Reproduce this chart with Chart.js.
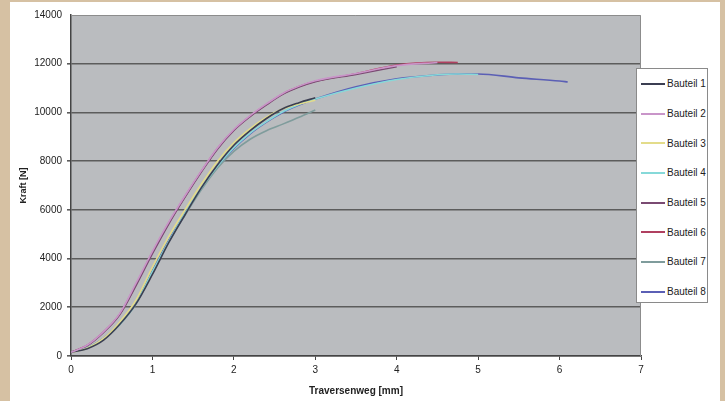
<!DOCTYPE html>
<html>
<head>
<meta charset="utf-8">
<script src="https://cdn.jsdelivr.net/npm/chart.js@4/dist/chart.umd.min.js"></script>
<style>
  html, body { margin: 0; padding: 0; }
  body { width: 725px; height: 401px; background: #d6c1a3; position: relative; overflow: hidden; }
  #card { position: absolute; left: 10px; top: 2px; width: 710px; height: 399px; background: #fff; }
  #card canvas { position: absolute; left: 0; top: 0; }
  #legend { position: absolute; left: 626px; top: 66px; width: 72px; height: 235px;
    background: #fff; border: 1px solid #8a8a8a; box-sizing: border-box;
    font: 10px "Liberation Sans", Arial, sans-serif; color: #222; }
  #legend .item { height: 29.7px; display: flex; align-items: center; }
  #legend .swatch { width: 24px; height: 2px; margin-left: 4px; margin-right: 2px; }
</style>
</head>
<body>
<div id="card">
  <canvas id="kraftChart" width="710" height="399"></canvas>
  <div id="legend"></div>
</div>
<script>
// Traversenweg [mm] – gemeinsame Stützstellen
const weg = [0, 0.2, 0.4, 0.6, 0.8, 1.0, 1.2, 1.4, 1.6, 1.8, 2.0, 2.2, 2.4, 2.6, 2.8, 3.0, 3.5, 4.0, 4.5, 4.75, 5.0, 5.5, 6.0, 6.1];

// Kraft [N] je Bauteil (Reihen enden unterschiedlich früh)
const bauteil1 = [150, 300, 650, 1300, 2150, 3350, 4650, 5800, 6900, 7850, 8650, 9250, 9750, 10150, 10400, 10600];
const bauteil2 = [150, 450, 1000, 1750, 3000, 4300, 5500, 6580, 7600, 8550, 9300, 9870, 10350, 10780, 11080, 11300, 11600, 11920, 12050];
const bauteil3 = [150, 320, 720, 1400, 2300, 3650, 4900, 6000, 7050, 8000, 8750, 9330, 9800, 10150, 10350, 10500];
const bauteil4 = [150, 330, 700, 1300, 2150, 3450, 4700, 5850, 6900, 7800, 8550, 9150, 9620, 10030, 10330, 10550, 11000, 11350, 11550, 11580, 11560];
const bauteil5 = [150, 430, 970, 1700, 2900, 4200, 5420, 6520, 7550, 8500, 9260, 9830, 10310, 10740, 11040, 11260, 11560, 11880];
const bauteil6 = [150, 440, 990, 1730, 2950, 4250, 5460, 6550, 7580, 8530, 9280, 9850, 10330, 10760, 11060, 11280, 11590, 11950, 12060, 12050];
const bauteil7 = [150, 330, 700, 1300, 2150, 3450, 4700, 5780, 6820, 7720, 8400, 8900, 9250, 9520, 9800, 10100];
const bauteil8 = [150, 340, 720, 1350, 2200, 3500, 4750, 5850, 6880, 7780, 8520, 9120, 9600, 10000, 10300, 10550, 11050, 11380, 11540, 11580, 11580, 11420, 11290, 11250];

const namen = ['Bauteil 1', 'Bauteil 2', 'Bauteil 3', 'Bauteil 4', 'Bauteil 5', 'Bauteil 6', 'Bauteil 7', 'Bauteil 8'];
const reihen = [bauteil1, bauteil2, bauteil3, bauteil4, bauteil5, bauteil6, bauteil7, bauteil8];
const farben = ['#3b3e52', '#c995c9', '#e3dc8a', '#86d9d9', '#7a4a72', '#b04060', '#7f9c9c', '#5b5fb5'];
// Bauteil 2 liegt im Original obenauf
const ebenen = [0, -1, 0, 0, 0, 0, 0, 0];

const xTicks = [0, 1, 2, 3, 4, 5, 6, 7];
const yTicks = [0, 2000, 4000, 6000, 8000, 10000, 12000, 14000];

const FONT = '"Liberation Sans", Arial, sans-serif';

// Plotfläche grau hinterlegen + Rahmen
const plotBg = {
  id: 'plotBg',
  beforeDraw(chart) {
    const { ctx, chartArea: a } = chart;
    ctx.save();
    ctx.fillStyle = '#babcbf';
    ctx.fillRect(a.left, a.top, a.right - a.left, a.bottom - a.top);
    ctx.restore();
  },
  afterDraw(chart) {
    const { ctx, chartArea: a } = chart;
    ctx.save();
    ctx.strokeStyle = '#8c8c8c';
    ctx.lineWidth = 1;
    ctx.beginPath();
    ctx.moveTo(a.left, a.top + 0.5);
    ctx.lineTo(a.right - 0.5, a.top + 0.5);
    ctx.lineTo(a.right - 0.5, a.bottom);
    ctx.stroke();
    ctx.restore();
  }
};

const datasets = reihen.map((werte, i) => ({
  label: namen[i],
  data: werte.map((k, j) => ({ x: weg[j], y: k })),
  borderColor: farben[i],
  backgroundColor: farben[i],
  borderWidth: 1.6,
  pointRadius: 0,
  showLine: true,
  order: ebenen[i],
  cubicInterpolationMode: 'monotone'
}));

new Chart(document.getElementById('kraftChart'), {
  type: 'scatter',
  data: { datasets },
  options: {
    responsive: false,
    animation: false,
    layout: { padding: { left: 0, right: 79, top: 13, bottom: 0 } },
    plugins: {
      legend: { display: false },
      tooltip: { enabled: false }
    },
    scales: {
      x: {
        type: 'linear',
        min: 0, max: 7,
        afterBuildTicks: (s) => { s.ticks = xTicks.map(v => ({ value: v })); },
        afterFit: (s) => { s.height = 45; },
        grid: { drawOnChartArea: false, drawTicks: true, tickLength: 4, color: '#444' },
        border: { color: '#444', width: 1.5 },
        ticks: { font: { family: FONT, size: 10 }, color: '#222', padding: 4, callback: (v) => String(v) },
        title: { display: true, text: 'Traversenweg [mm]', font: { family: FONT, size: 10, weight: 'bold' }, color: '#222', padding: { top: 3 } }
      },
      y: {
        type: 'linear',
        min: 0, max: 14000,
        afterBuildTicks: (s) => { s.ticks = yTicks.map(v => ({ value: v })); },
        afterFit: (s) => { s.width = 61; },
        grid: {
          drawTicks: true, tickLength: 4,
          color: (c) => (c.tick && c.tick.value === 14000) ? 'rgba(0,0,0,0)' : '#5c5c5c',
          lineWidth: 1.6
        },
        border: { color: '#444', width: 1.5 },
        ticks: { font: { family: FONT, size: 10 }, color: '#222', padding: 5, callback: (v) => String(v) },
        title: { display: true, text: 'Kraft [N]', font: { family: FONT, size: 9, weight: 'bold' }, color: '#222', padding: { top: 8, bottom: 4 } }
      }
    }
  },
  plugins: [plotBg]
});

// Legende als HTML
const legendEl = document.getElementById('legend');
namen.forEach((n, i) => {
  const item = document.createElement('div');
  item.className = 'item';
  const sw = document.createElement('span');
  sw.className = 'swatch';
  sw.style.background = farben[i];
  const tx = document.createElement('span');
  tx.textContent = n;
  item.appendChild(sw);
  item.appendChild(tx);
  legendEl.appendChild(item);
});
</script>
</body>
</html>
